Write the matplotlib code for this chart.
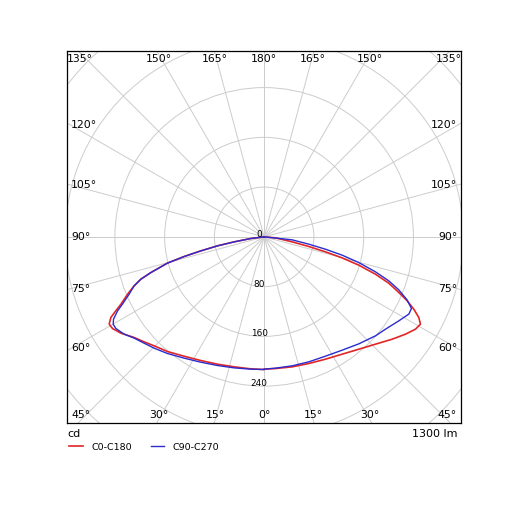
"""Polar luminous intensity diagram (C0-C180 / C90-C270)."""

import matplotlib

matplotlib.use("Agg")
import matplotlib.pyplot as plt
import numpy as np
from matplotlib.patches import Circle

# gamma angles (deg from nadir) and intensities (cd)
c0_gamma = [0, 4.9, 12.15, 19.4, 26.6, 33.6, 40.1, 46.05, 51.35, 55.45, 58.6, 60.8, 62.45,
            64.2, 65.9, 67.55, 69.6, 71.45, 73.35, 74.9, 76.25, 77.8, 79.9, 84.95, 90]
c0_cd = [212.7, 212.5, 213.8, 215.9, 220.0, 226.5, 236.2, 248.6, 263.5, 275.9, 285.0, 287.9, 280.5,
         267.3, 251.9, 234.3, 213.8, 188.8, 158.9, 129.9, 101.5, 73.5, 45.7, 18.3, 0]

c180_gamma = [0, 5.8, 13.0, 20.1, 27.1, 33.8, 40.1, 45.3, 48.8, 52.25, 56.1, 58.85, 60.6, 62.25,
              63.5, 64.8, 67.2, 69.35, 71.05, 72.5, 74.8, 76.2, 77.5, 79.1, 80.5, 82.9, 90]
c180_cd = [213.3, 213.3, 214.5, 218.0, 223.4, 231.0, 241.1, 249.0, 256.4, 264.3, 277.6, 284.9, 286.0, 278.5,
           266.5, 254.6, 238.3, 223.4, 209.6, 191.0, 161.1, 132.4, 104.3, 76.4, 48.9, 21.6, 0]

c90_gamma = [0, 4.95, 12.25, 19.7, 27.2, 34.55, 41.5, 48.35, 52.7, 58.05, 61.9, 64.05, 66.2,
             68.5, 70.55, 72.55, 74.8, 76.8, 78.6, 80.7, 83.9, 90]
c90_cd = [212.7, 211.9, 212.2, 213.4, 215.7, 221.2, 229.7, 239.5, 245.1, 255.2, 263.7, 263.4, 251.2,
          232.7, 212.5, 187.6, 157.7, 128.8, 100.6, 72.8, 45.3, 0]

c270_gamma = [0, 5.75, 12.9, 19.9, 26.8, 33.4, 39.65, 44.65, 48.45, 52.1, 55.2, 58.3, 59.95, 61.35,
              63.2, 64.6, 67.0, 69.35, 71.05, 72.5, 74.8, 76.2, 77.5, 79.1, 80.5, 82.9, 90]
c270_cd = [213.3, 213.8, 216.1, 220.0, 225.8, 233.6, 243.6, 251.6, 257.8, 265.0, 274.1, 280.3, 280.4, 276.0,
           264.1, 252.2, 235.8, 223.4, 209.6, 191.0, 161.1, 132.4, 104.3, 76.4, 48.9, 21.6, 0]

ring_values = [0, 80, 160, 240]
grid_rings = [80, 160, 240, 320, 400, 480]
angle_ticks = list(range(0, 360, 15))

flux_label = "1300 lm"
unit_label = "cd"
series_labels = ["C0-C180", "C90-C270"]
series_colors = ["#e02626", "#2b2bd0"]

XLIM = 316.5
YLIM = 298.8


def half_plane(gamma, cd, side):
    """Convert a half C-plane to cartesian points (nadir pointing down)."""
    g = np.radians(np.asarray(gamma, dtype=float))
    r = np.asarray(cd, dtype=float)
    return side * r * np.sin(g), -r * np.cos(g)


def curve(left_gamma, left_cd, right_gamma, right_cd):
    lx, ly = half_plane(left_gamma, left_cd, -1)
    rx, ry = half_plane(right_gamma, right_cd, 1)
    x = np.concatenate([lx[::-1], rx])
    y = np.concatenate([ly[::-1], ry])
    return x, y


def label_position(angle):
    """Place an angle label just inside the frame where its ray leaves it."""
    a = np.radians(angle)
    dx, dy = np.sin(a), -np.cos(a)
    padx, pady = 6.0, 5.0
    hw, hh = XLIM - padx, YLIM - pady
    tx = hw / abs(dx) if abs(dx) > 1e-9 else np.inf
    ty = hh / abs(dy) if abs(dy) > 1e-9 else np.inf
    if ty <= tx:
        x, y = dx * ty, dy * ty
        return x, y, "center", ("top" if dy > 0 else "bottom")
    x, y = dx * tx, dy * tx
    return x, y, ("right" if dx > 0 else "left"), "center"


fig = plt.figure(figsize=(5.15, 5.15), dpi=100)
ax = fig.add_axes([67.3 / 515, 1 - 422.7 / 515, 393.7 / 515, 371.7 / 515])
ax.set_xlim(-XLIM, XLIM)
ax.set_ylim(-YLIM, YLIM)
ax.set_xticks([])
ax.set_yticks([])
for spine in ax.spines.values():
    spine.set_linewidth(0.9)

grid_color = "#cccccc"
for r in grid_rings:
    ax.add_patch(Circle((0, 0), r, fill=False, edgecolor=grid_color, linewidth=0.7, zorder=1))
for angle in angle_ticks:
    a = np.radians(angle)
    ax.plot([0, 600 * np.sin(a)], [0, -600 * np.cos(a)], color=grid_color, linewidth=0.7, zorder=1)

# angle labels: left side uses 0..180 mirrored
for angle in range(0, 181, 15):
    for side in (-1, 1):
        if angle in (0, 180) and side == -1:
            continue
        x, y, ha, va = label_position(side * angle)
        if angle == 135:
            x = x + 3 * side
        ax.text(x, y, f"{angle}\u00b0", ha=ha, va=va, fontsize=7.8, zorder=4)

for r in ring_values:
    ax.text(-8, -r, str(r), ha="center", va="baseline", fontsize=6.4, zorder=4)

x0, y0 = curve(c180_gamma, c180_cd, c0_gamma, c0_cd)
x1, y1 = curve(c270_gamma, c270_cd, c90_gamma, c90_cd)
ax.plot(x0, y0, color=series_colors[0], linewidth=1.2, label=series_labels[0], zorder=3)
ax.plot(x1, y1, color=series_colors[1], linewidth=1.0, label=series_labels[1], zorder=3)

fig.text(67.3 / 515, 1 - 434 / 515, unit_label, ha="left", va="center", fontsize=8)
fig.text(458 / 515, 1 - 434 / 515, flux_label, ha="right", va="center", fontsize=8)

fig.legend(
    loc="center left",
    bbox_to_anchor=(69 / 515, 1 - 447 / 515),
    ncol=2,
    frameon=False,
    fontsize=6.8,
    handlelength=1.45,
    handletextpad=0.9,
    columnspacing=2.0,
    borderpad=0,
    borderaxespad=0,
)

fig.savefig("out.png", dpi=100)
